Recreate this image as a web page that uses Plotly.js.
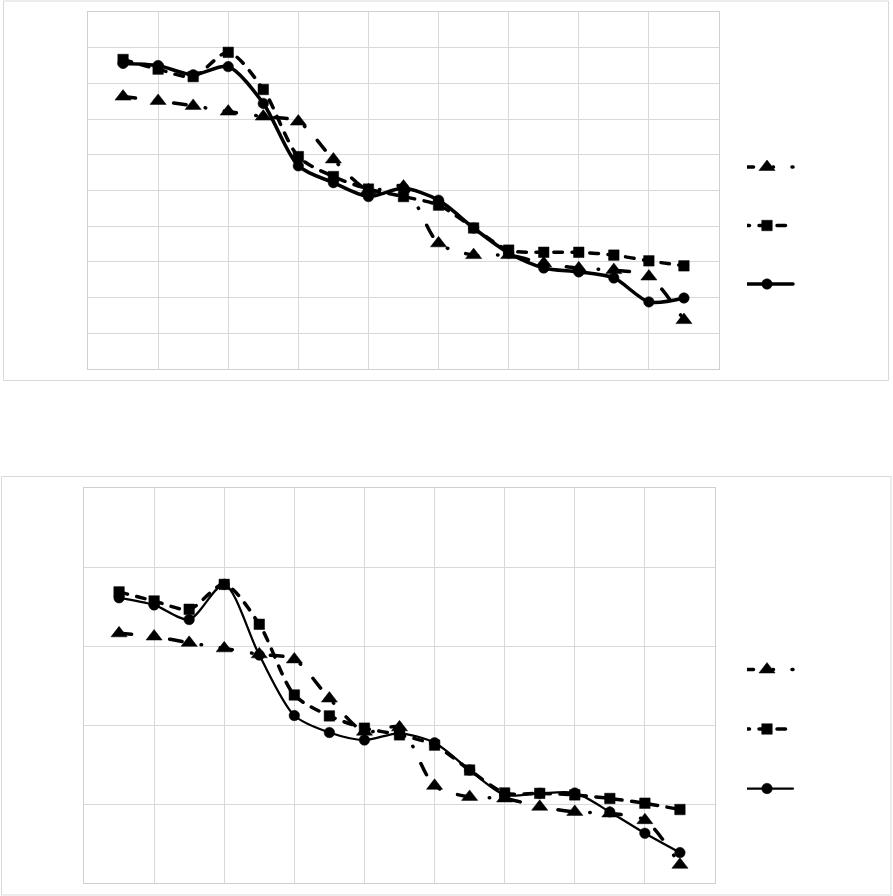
<!DOCTYPE html>
<html>
<head>
<meta charset="utf-8">
<script src="https://cdn.plot.ly/plotly-3.0.1.min.js"></script>
<style>
  html, body { margin: 0; padding: 0; background: #ffffff; }
  #chart { width: 893px; height: 896px; }
  #chart .js-line { stroke-linecap: round !important; stroke-linejoin: round !important; }
</style>
</head>
<body>
<div id="chart"></div>
<script>
// Shared x categories (17 points)
const xValues = [1, 2, 3, 4, 5, 6, 7, 8, 9, 10, 11, 12, 13, 14, 15, 16, 17];

// Top chart series
const topTriangle = [7.63, 7.51, 7.37, 7.21, 7.07, 6.93, 5.87, 5.01, 5.11, 3.52, 3.19, 3.19, 2.96, 2.82, 2.77, 2.59, 1.37];
const topSquare   = [8.67, 8.40, 8.19, 8.87, 7.83, 5.95, 5.39, 5.04, 4.83, 4.59, 3.95, 3.33, 3.27, 3.27, 3.19, 3.03, 2.89];
const topCircle   = [8.56, 8.50, 8.24, 8.47, 7.44, 5.69, 5.22, 4.83, 5.06, 4.73, 3.95, 3.25, 2.83, 2.72, 2.55, 1.88, 1.99];

// Bottom chart series
const botTriangle = [6.32, 6.24, 6.08, 5.94, 5.79, 5.66, 4.67, 3.83, 3.94, 2.46, 2.18, 2.14, 1.93, 1.80, 1.76, 1.59, 0.46];
const botSquare   = [7.37, 7.14, 6.93, 7.56, 6.55, 4.76, 4.23, 3.92, 3.75, 3.49, 2.86, 2.28, 2.27, 2.23, 2.14, 2.02, 1.86];
const botCircle   = [7.22, 7.04, 6.67, 7.56, 5.77, 4.24, 3.81, 3.62, 3.79, 3.55, 2.86, 2.23, 2.27, 2.28, 1.80, 1.26, 0.77];

const W = 893, H = 896;
const px = v => v / W;
const py = v => 1 - v / H;

const triStyle = { dash: '12.5px,19.5px,0.5px,18.5px', width: 3.5 };
const sqStyle  = { dash: '8.5px,9.5px', width: 3.5 };

function mk(y, xa, ya, leg, group, symbol, size, lineStyle) {
  return {
    type: 'scatter', mode: 'lines+markers',
    x: xValues, y: y, xaxis: xa, yaxis: ya,
    name: ' ', legend: leg, legendgroup: group,
    line: Object.assign({ color: '#000000', shape: 'spline', smoothing: 0.8 }, lineStyle),
    marker: { symbol: symbol, size: size, color: '#000000', line: { color: '#000000', width: 0.5 } },
    hoverinfo: 'skip'
  };
}

const data = [
  mk(topTriangle, 'x', 'y', 'legend', 't1', 'triangle-up', 14, triStyle),
  mk(topSquare,   'x', 'y', 'legend', 't2', 'square', 10.5, sqStyle),
  mk(topCircle,   'x', 'y', 'legend', 't3', 'circle', 10.5, { dash: 'solid', width: 3.5 }),
  mk(botTriangle, 'x2', 'y2', 'legend2', 'b1', 'triangle-up', 14, triStyle),
  mk(botSquare,   'x2', 'y2', 'legend2', 'b2', 'square', 10.5, sqStyle),
  mk(botCircle,   'x2', 'y2', 'legend2', 'b3', 'circle', 10.5, { dash: 'solid', width: 2.25 })
];

const axCommon = {
  showgrid: true, gridcolor: '#d9d9d9', gridwidth: 1,
  showline: true, mirror: true, linecolor: '#d0d0d0', linewidth: 1,
  zeroline: false, showticklabels: false, ticks: '', fixedrange: true
};

const layout = {
  width: W, height: H,
  margin: { l: 0, r: 0, t: 0, b: 0 },
  paper_bgcolor: '#ffffff', plot_bgcolor: '#ffffff',
  showlegend: true,
  xaxis:  Object.assign({}, axCommon, { domain: [px(88), px(719)], range: [0, 18], dtick: 2, tick0: 0, anchor: 'y' }),
  yaxis:  Object.assign({}, axCommon, { domain: [py(369), py(12)], range: [0, 10], dtick: 1, tick0: 0, anchor: 'x' }),
  xaxis2: Object.assign({}, axCommon, { domain: [px(84), px(715)], range: [0, 18], dtick: 2, tick0: 0, anchor: 'y2' }),
  yaxis2: Object.assign({}, axCommon, { domain: [py(883), py(488)], range: [0, 10], dtick: 2, tick0: 0, anchor: 'x2' }),
  legend:  { x: px(747), y: py(152.5), xanchor: 'left', yanchor: 'top', tracegroupgap: 39.5, bgcolor: 'rgba(0,0,0,0)', font: { size: 12 } },
  legend2: { x: px(747), y: py(655), xanchor: 'left', yanchor: 'top', tracegroupgap: 40.5, bgcolor: 'rgba(0,0,0,0)', font: { size: 12 } },
  shapes: [
    { type: 'rect', xref: 'paper', yref: 'paper', x0: px(3.5), x1: px(888.5), y0: py(380.5), y1: py(1), line: { color: '#d9d9d9', width: 1 }, layer: 'below' },
    { type: 'rect', xref: 'paper', yref: 'paper', x0: px(1.5), x1: px(891), y0: py(895), y1: py(476.5), line: { color: '#d9d9d9', width: 1 }, layer: 'below' }
  ]
};

Plotly.newPlot('chart', data, layout, { displayModeBar: false, staticPlot: true }).then(function (gd) {
  // Lengthen legend sample lines (centred on the marker) to match the reference legend keys.
  gd.querySelectorAll('.legendlines path').forEach(function (p) {
    p.setAttribute('d', 'M-6,0h52');
  });
});
</script>
</body>
</html>
